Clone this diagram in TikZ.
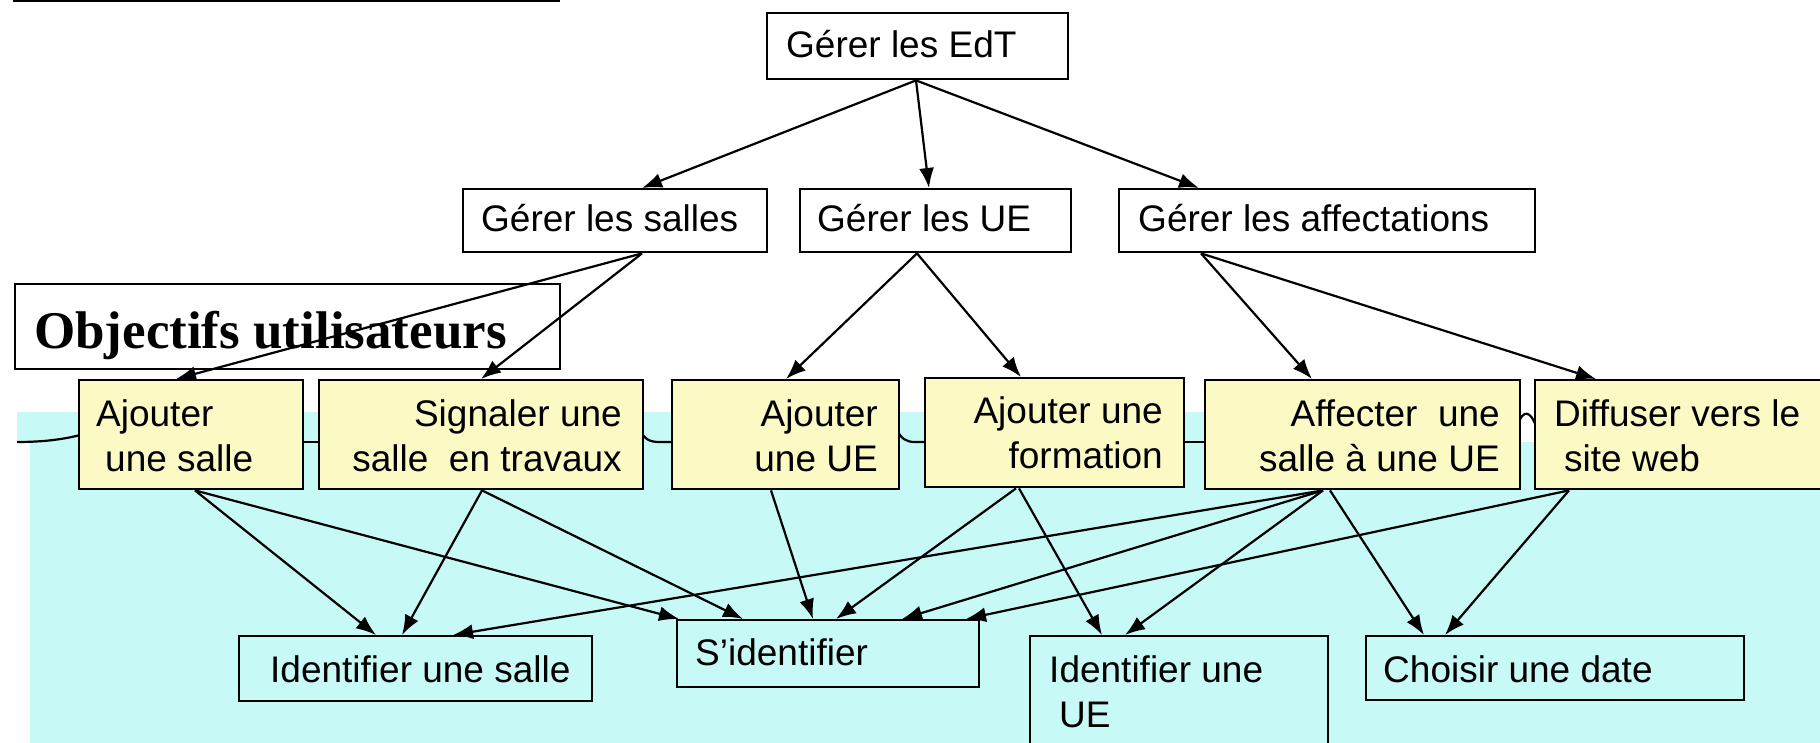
\documentclass[tikz,border=0pt]{standalone}
\usepackage{fontspec}
\setmainfont{Liberation Sans}
\newfontfamily\objfont{Liberation Serif}
\usetikzlibrary{arrows.meta,calc}
\definecolor{yboxc}{RGB}{251,250,196}
\definecolor{cyanbg}{RGB}{199,250,247}
\begin{document}
\begin{tikzpicture}[x=1pt,y=-1pt,
  box/.style={draw=black, line width=2.4pt, inner sep=0pt, anchor=north west},
  ybox/.style={box, fill=yboxc},
  txt/.style={inner sep=0pt, font=\fontsize{37}{46}\selectfont},
  arr/.style={-{Latex[length=20pt,width=15pt]}, line width=2.2pt},
  wave/.style={line width=2.2pt},
]
\useasboundingbox (0,0) rectangle (1820,743);
\clip (0,0) rectangle (1820,743);

% background
\fill[cyanbg] (17,412) rectangle (1519,442);
\fill[cyanbg] (30,442) rectangle (1830,750);
\fill[black] (13,-2) rectangle (560,2.5);

% wavy line
\draw[wave] (17,442) .. controls (45,442) and (65,439) .. (80,435);
\draw[wave] (300,442) -- (320,442);
\draw[wave] (640,430) .. controls (645,440) and (650,442) .. (660,442) -- (673,442);
\draw[wave] (896,428) .. controls (901,439) and (906,442) .. (915,442) -- (926,442);
\draw[wave] (1181,442) -- (1206,442);
\draw[wave] (1518,424) .. controls (1523,410) and (1530,410) .. (1536,426);

% top level
\node[box, minimum width=301pt, minimum height=66pt] (edt) at (766,12) {};
\node[box, minimum width=304pt, minimum height=63pt] (salles) at (462,188) {};
\node[box, minimum width=271pt, minimum height=63pt] (ue) at (799,188) {};
\node[box, minimum width=416pt, minimum height=63pt] (aff) at (1118,188) {};
\node[box, minimum width=545pt, minimum height=85pt] (obj) at (14,283) {};

% yellow
\node[ybox, minimum width=224pt, minimum height=109pt] (a) at (78,379) {};
\node[ybox, minimum width=324pt, minimum height=109pt] (b) at (318,379) {};
\node[ybox, minimum width=227pt, minimum height=109pt] (c) at (671,379) {};
\node[ybox, minimum width=259pt, minimum height=109pt] (d) at (924,377) {};
\node[ybox, minimum width=315pt, minimum height=109pt] (e) at (1204,379) {};
\node[ybox, minimum width=320pt, minimum height=109pt] (f) at (1534,379) {};

% bottom
\node[box, minimum width=353pt, minimum height=65pt] (g) at (238,635) {};
\node[box, minimum width=302pt, minimum height=67pt] (h) at (676,619) {};
\node[box, minimum width=298pt, minimum height=125pt] (i) at (1029,635) {};
\node[box, minimum width=378pt, minimum height=64pt] (j) at (1365,635) {};

% texts
\node[txt, anchor=base west] (tedt) at (786,58) {Gérer les EdT};
\node[txt, anchor=base west] (tsalles) at (481,232) {Gérer les salles};
\node[txt, anchor=base west] (tue) at (817,232) {Gérer les UE};
\node[txt, anchor=base west] (taff) at (1138,232) {Gérer les affectations};
\node[anchor=base west, inner sep=0pt, font=\objfont\bfseries\fontsize{53}{60}\selectfont] (tobj) at (34,348) {Objectifs utilisateurs};

\node[txt, anchor=base west] (ta1) at (96,426) {Ajouter};
\node[txt, anchor=base west] (ta2) at (105,471) {une salle};
\node[txt, anchor=base east] (tb1) at (622,426) {Signaler une};
\node[txt, anchor=base east] (tb2) at (622,471) {salle~ en travaux};
\node[txt, anchor=base east] (tc1) at (878,426) {Ajouter};
\node[txt, anchor=base east] (tc2) at (878,471) {une UE};
\node[txt, anchor=base east] (td1) at (1163,423) {Ajouter une};
\node[txt, anchor=base east] (td2) at (1163,468) {formation};
\node[txt, anchor=base east] (te1) at (1500,426) {Affecter~ une};
\node[txt, anchor=base east] (te2) at (1500,471) {salle à une UE};
\node[txt, anchor=base west] (tf1) at (1554,426) {Diffuser vers le};
\node[txt, anchor=base west] (tf2) at (1564,471) {site web};

\node[txt, anchor=base west] (tg) at (270,682) {Identifier une salle};
\node[txt, anchor=base west] (th) at (695,665) {S’identifier};
\node[txt, anchor=base west] (ti1) at (1049,682) {Identifier une};
\node[txt, anchor=base west] (ti2) at (1059,727) {UE};
\node[txt, anchor=base west] (tj) at (1383,682) {Choisir une date};

% arrows level 1
\draw[arr] ($(edt.south west)+(150,0)$) -- ($(salles.north west)+(180,0)$);
\draw[arr] ($(edt.south west)+(150,0)$) -- ($(ue.north west)+(130,0)$);
\draw[arr] ($(edt.south west)+(150,0)$) -- ($(aff.north west)+(81,0)$);
% level 2
\draw[arr] ($(salles.south west)+(180,0)$) -- ($(a.north west)+(98,0)$);
\draw[arr] ($(salles.south west)+(180,0)$) -- ($(b.north west)+(163,0)$);
\draw[arr] ($(ue.south west)+(118,0)$) -- ($(c.north west)+(115,0)$);
\draw[arr] ($(ue.south west)+(118,0)$) -- ($(d.north west)+(97,0)$);
\draw[arr] ($(aff.south west)+(83,0)$) -- ($(e.north west)+(108,0)$);
\draw[arr] ($(aff.south west)+(83,0)$) -- ($(f.north west)+(62,0)$);
% level 3
\draw[arr] ($(a.south west)+(117,0)$) -- ($(g.north west)+(138,0)$);
\draw[arr] ($(a.south west)+(117,0)$) -- ($(h.north west)+(3,0)$);
\draw[arr] ($(b.south west)+(164,0)$) -- ($(g.north west)+(164,0)$);
\draw[arr] ($(b.south west)+(164,0)$) -- ($(h.north west)+(67,0)$);
\draw[arr] ($(c.south west)+(100,0)$) -- ($(h.north west)+(137,0)$);
\draw[arr] ($(d.south west)+(92,0)$) -- ($(h.north west)+(160,0)$);
\draw[arr] ($(d.south west)+(95,0)$) -- ($(i.north west)+(73,0)$);
\draw[arr] ($(e.south west)+(119,0)$) -- ($(g.north west)+(215,0)$);
\draw[arr] ($(e.south west)+(119,0)$) -- ($(h.north west)+(226,0)$);
\draw[arr] ($(e.south west)+(119,0)$) -- ($(i.north west)+(96,0)$);
\draw[arr] ($(e.south west)+(126,0)$) -- ($(j.north west)+(59,0)$);
\draw[arr] ($(f.south west)+(35,0)$) -- ($(h.north west)+(290,0)$);
\draw[arr] ($(f.south west)+(35,0)$) -- ($(j.north west)+(80,0)$);
\end{tikzpicture}
\end{document}
